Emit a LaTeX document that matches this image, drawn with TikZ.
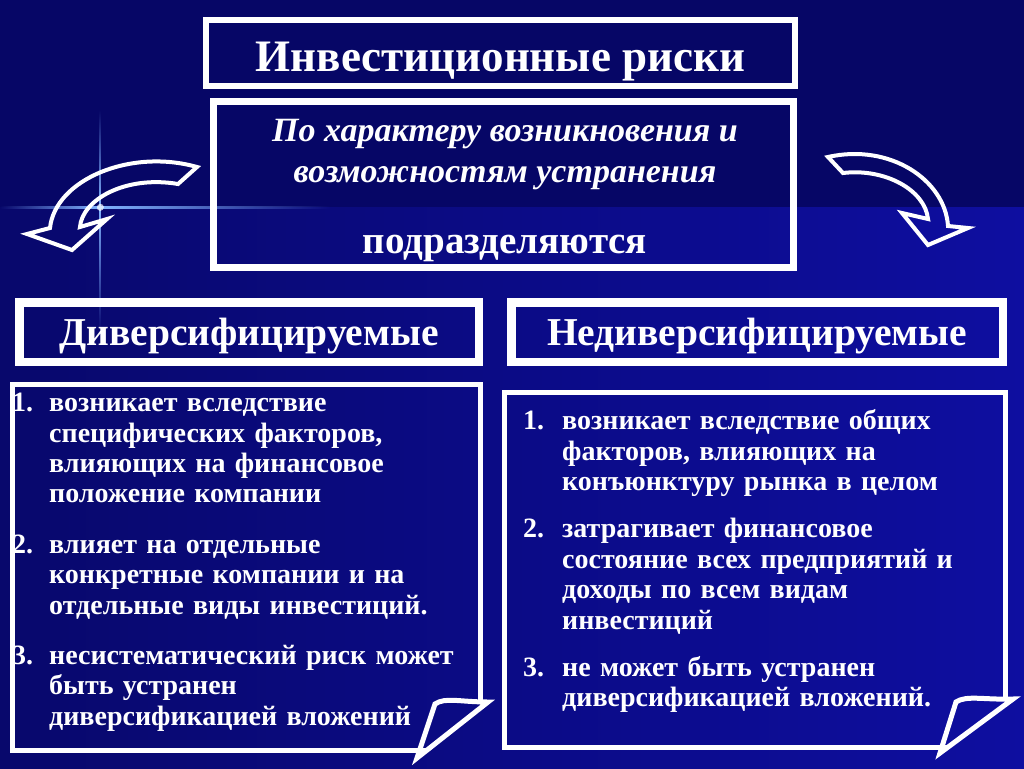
\documentclass[tikz,border=0pt]{standalone}
\usepackage{fontspec}
\setmainfont{Liberation Serif}
\usetikzlibrary{fadings}

\definecolor{bgtop}{RGB}{6,6,102}
\definecolor{bglowl}{RGB}{8,8,108}
\definecolor{bglowr}{RGB}{14,14,160}
\definecolor{flare}{RGB}{130,180,255}

% numbered item with hanging lines
\newcommand\riskitem[3]{\par\noindent\hangindent=#1\hangafter=1\makebox[#1][l]{#2.}#3\par}

\begin{document}
\begin{tikzpicture}[x=1pt,y=-1pt,
		titlebox/.style={draw=white, line width=6pt, minimum width=589pt, minimum height=66pt,
			text=white, inner sep=0pt, font=\bfseries\fontsize{45}{50}\selectfont},
		basisbox/.style={draw=white, line width=7pt, minimum width=580pt, minimum height=166pt},
		headbox/.style={draw=white, line width=8.5pt, minimum height=59.5pt,
			text=white, inner sep=0pt, font=\bfseries\fontsize{39.5}{46}\selectfont},
		listbox/.style={draw=white, line width=5pt, line join=miter},
		listtext/.style={text=white, inner sep=0pt, text width=470pt,
			font=\bfseries\fontsize{28}{30.4}\selectfont},
		turnarrow/.style={draw=white, line width=4pt, line join=miter}]
		% background
		\fill[bgtop] (0,0) rectangle (1024,207);
		\shade[left color=bglowl, right color=bglowr] (0,207) rectangle (1024,768);
		% light flare
		\fill[flare, path fading=west] (0,205.5) rectangle (100,208.5);
		\fill[flare, path fading=east] (100,205.5) rectangle (330,208.5);
		\fill[flare, path fading=north] (98.8,207) rectangle (101.2,110);
		\fill[flare, path fading=south] (98.8,207) rectangle (101.2,330);
		\fill[white, path fading=circle with fuzzy edge 20 percent, opacity=.7] (100,207) circle (4);

		\node[titlebox] (title) at (500.5,53) {\smash{\raisebox{-18pt}{Инвестиционные риски}}};
		\node[basisbox] (basis) at (503.5,184.5) {};
		\node[text=white, align=center, font=\bfseries\itshape\fontsize{34}{41}\selectfont]
			(basistext) at (505,155) {По характеру возникновения и\\возможностям устранения};
		\node[text=white, inner sep=0pt, font=\bfseries\fontsize{39}{44}\selectfont]
			(split) at (505,248) {подразделяются};

		% curved arrows
		\draw[turnarrow] (197,167) .. controls (130,148) and (55,180) .. (50,228) -- (27,234)
			-- (72,250) -- (107,219) -- (80,227) .. controls (82,200) and (125,175) .. (178,184) -- cycle;
		\draw[turnarrow] (828,157) .. controls (890,143) and (945,180) .. (948,226) -- (968,228)
			-- (928,245) -- (902,213) -- (928,219) .. controls (925,190) and (885,168) .. (843,173) -- cycle;

		\node[headbox, minimum width=459.5pt] (divers) at (249,332) {\smash{\raisebox{-13pt}{Диверсифицируемые}}};
		\node[headbox, minimum width=491.5pt] (nondivers) at (757,332) {\smash{\raisebox{-13pt}{Недиверсифицируемые}}};

		% list boxes with folded corner
		\draw[listbox] (480,702) -- (480,384) -- (12,384) -- (12,750) -- (427,750);
		\draw[listbox] (435,704) .. controls (445,697) and (460,702) .. (488,702) -- (417,758) -- cycle;
		\draw[listbox] (1005,700) -- (1005,392) -- (504,392) -- (504,747) -- (948,747);
		\draw[listbox] (956,702) .. controls (966,695) and (985,700) .. (1013,699) -- (940,753) -- cycle;

		\node[listtext, anchor=north west] (diverslist) at (12,381) {%
			\riskitem{37pt}{1}{возникает вследствие\newline специфических факторов,\newline влияющих на финансовое\newline положение компании}
			\vspace{20pt}
			\riskitem{37pt}{2}{влияет на отдельные\newline конкретные компании и на\newline отдельные виды инвестиций.}
			\vspace{20pt}
			\riskitem{37pt}{3}{несистематический риск может\newline быть устранен\newline диверсификацией вложений}};
		\node[listtext, anchor=north west] (nondiverslist) at (523,399) {%
			\riskitem{39pt}{1}{возникает вследствие общих\newline факторов, влияющих на\newline конъюнктуру рынка в целом}
			\vspace{17pt}
			\riskitem{39pt}{2}{затрагивает финансовое\newline состояние всех предприятий и\newline доходы по всем видам\newline инвестиций}
			\vspace{17pt}
			\riskitem{39pt}{3}{не может быть устранен\newline диверсификацией вложений.}};
	\end{tikzpicture}
\end{document}
